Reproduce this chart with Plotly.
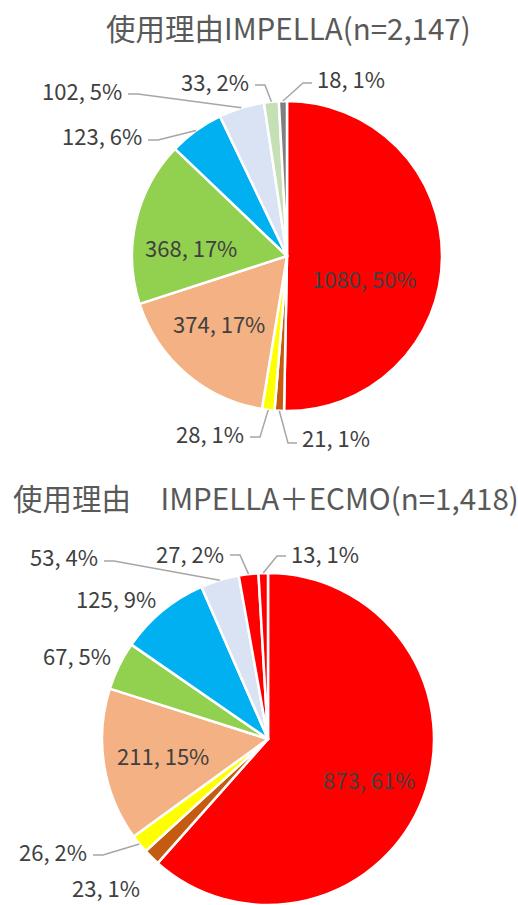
import math
import plotly.graph_objects as go

W, H = 518, 905

# ---------------- data ----------------
top_title = "使用理由IMPELLA(n=2,147)"
top_values = [1080, 21, 28, 374, 368, 123, 102, 33, 18]
top_pcts = ["50%", "1%", "1%", "17%", "17%", "6%", "5%", "2%", "1%"]
top_colors = ["#FF0000", "#C55A11", "#FFFF00", "#F4B183", "#92D050",
              "#00B0F0", "#DAE3F3", "#C5E0B4", "#808080"]

bot_title = "使用理由　IMPELLA＋ECMO(n=1,418)"
bot_values = [873, 23, 26, 211, 67, 125, 53, 27, 13]
bot_pcts = ["61%", "1%", "2%", "15%", "5%", "9%", "4%", "2%", "1%"]
bot_colors = ["#FF0000", "#C55A11", "#FFFF00", "#F4B183", "#92D050",
              "#00B0F0", "#DAE3F3", "#FF0000", "#FF0000"]

# ---------------- layout constants ----------------
FONT = "Noto Sans CJK JP"
LABEL_COLOR = "#404040"
TITLE_COLOR = "#595959"
LINE_COLOR = "#A6A6A6"
LABEL_SIZE = 22
TITLE_SIZE = 29.5

# pie geometry (pixels): centre x, centre y, radius
top_geo = (287, 256, 155)
bot_geo = (268, 739, 166)

# label placement: index -> (text x, text y, anchor side, leader-line y or None)
top_lab = {
    0: (364, 278, "center", None),
    1: (300, 437, "left", 443),
    2: (246, 433, "right", 437),
    3: (219, 323, "center", None),
    4: (191, 247, "center", None),
    5: (144, 135, "right", 140),
    6: (124, 90, "right", 94),
    7: (251, 81, "right", 85),
    8: (315, 78, "left", 83),
}
bot_lab = {
    0: (369, 779, "center", None),
    1: (142, 887, "right", None),
    2: (89, 851, "right", 855),
    3: (163, 755, "center", None),
    4: (113, 655, "right", None),
    5: (158, 598, "right", None),
    6: (100, 556, "right", 561),
    7: (226, 553, "right", 555),
    8: (289, 553, "left", 556),
}


def px(x):
    return x / W


def py(y):
    return 1 - y / H


fig = go.Figure()
annotations = []
shapes = []


def add_pie(values, pcts, colors, geo, lab):
    cx, cy, r = geo
    labels = [f"{v}, {p}" for v, p in zip(values, pcts)]
    fig.add_trace(go.Pie(
        values=values,
        textinfo="none",
        marker=dict(colors=colors, line=dict(color="white", width=2.5)),
        sort=False,
        direction="clockwise",
        rotation=0,
        hoverinfo="skip",
        showlegend=False,
        domain=dict(x=[px(cx - r), px(cx + r)],
                    y=[max(0, py(cy + r)), min(1, py(cy - r))]),
    ))
    total = sum(values)
    cum = 0
    for i, v in enumerate(values):
        mid = (cum + v / 2) / total * 2 * math.pi
        cum += v
        if i not in lab:
            continue
        tx, ty, side, ly = lab[i]
        annotations.append(dict(
            x=px(tx), y=py(ty), xref="paper", yref="paper",
            text=labels[i], showarrow=False,
            xanchor=side, yanchor="middle",
            font=dict(family=FONT, size=LABEL_SIZE, color=LABEL_COLOR),
        ))
        if ly is not None:
            ex = cx + r * math.sin(mid)
            ey = cy - r * math.cos(mid)
            if side == "right":
                endx = tx + 4
                elbx = endx + 10
            else:
                endx = tx - 3
                elbx = endx - 9
            path = (f"M {px(ex)} {py(ey)} L {px(elbx)} {py(ly)} "
                    f"L {px(endx)} {py(ly)}")
            shapes.append(dict(type="path", path=path, xref="paper", yref="paper",
                               line=dict(color=LINE_COLOR, width=1.5)))


add_pie(top_values, top_pcts, top_colors, top_geo, top_lab)
add_pie(bot_values, bot_pcts, bot_colors, bot_geo, bot_lab)

annotations.append(dict(x=px(288), y=py(27), xref="paper", yref="paper",
                        text=top_title, showarrow=False, xanchor="center",
                        yanchor="middle",
                        font=dict(family=FONT, size=TITLE_SIZE, color=TITLE_COLOR)))
annotations.append(dict(x=px(266), y=py(497), xref="paper", yref="paper",
                        text=bot_title, showarrow=False, xanchor="center",
                        yanchor="middle",
                        font=dict(family=FONT, size=TITLE_SIZE, color=TITLE_COLOR)))

fig.update_layout(
    width=W, height=H,
    margin=dict(l=0, r=0, t=0, b=0),
    paper_bgcolor="white",
    plot_bgcolor="white",
    annotations=annotations,
    shapes=shapes,
)

fig.write_html(
    "out.html",
    config={"displayModeBar": False},
    post_script="document.body.style.margin='0';document.body.style.overflow='hidden';",
)
